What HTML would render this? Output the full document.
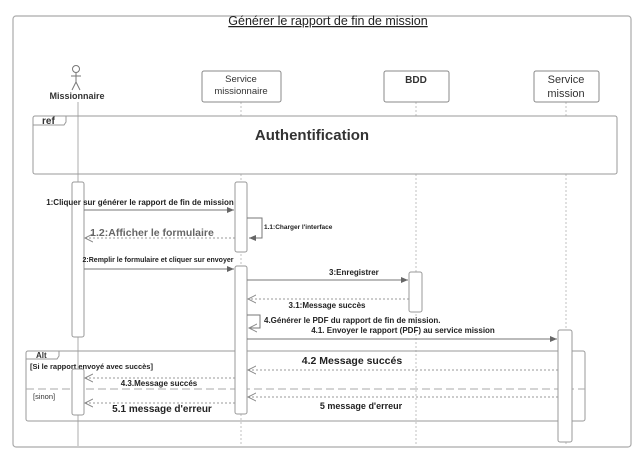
<!DOCTYPE html>
<html><head><meta charset="utf-8"><style>
body{margin:0;background:#fff;}
svg{display:block;font-family:"Liberation Sans",sans-serif;}
</style></head><body>
<svg width="643" height="461" viewBox="0 0 643 461" xmlns="http://www.w3.org/2000/svg">
<defs>
<marker id="a" markerWidth="8" markerHeight="8" refX="7" refY="4" orient="auto" markerUnits="userSpaceOnUse"><path d="M0,1 L7,4 L0,7 z" fill="#666"/></marker>
<marker id="o" markerWidth="10" markerHeight="10" refX="8" refY="5" orient="auto" markerUnits="userSpaceOnUse"><path d="M0,1 L8,5 L0,9" fill="none" stroke="#888"/></marker>
</defs>
<rect x="13" y="16" width="618" height="431" rx="3" fill="#fff" stroke="#aaa" stroke-width="1.2"/>
<text x="328" y="25" font-size="12.5" text-anchor="middle" fill="#222" text-decoration="underline">Générer  le rapport de fin de mission</text>
<!-- lifelines -->
<line x1="241" y1="102" x2="241" y2="446" stroke="#999" stroke-width="0.6" stroke-dasharray="2,2"/>
<line x1="416" y1="102" x2="416" y2="446" stroke="#999" stroke-width="0.6" stroke-dasharray="2,2"/>
<line x1="566" y1="102" x2="566" y2="446" stroke="#999" stroke-width="0.6" stroke-dasharray="2,2"/>
<!-- actor -->
<circle cx="76" cy="69" r="3.5" fill="#fff" stroke="#777"/>
<line x1="76" y1="73" x2="76" y2="82" stroke="#777"/>
<line x1="71" y1="76" x2="81" y2="76" stroke="#777"/>
<line x1="76" y1="82" x2="72" y2="90" stroke="#777"/>
<line x1="76" y1="82" x2="80" y2="90" stroke="#777"/>
<text x="77" y="99" font-size="9" font-weight="bold" text-anchor="middle" fill="#333">Missionnaire</text>
<!-- boxes -->
<rect x="202" y="71" width="79" height="31" rx="2" fill="#fff" stroke="#888"/>
<text x="241" y="82" font-size="9.5" text-anchor="middle" fill="#333">Service</text>
<text x="241" y="94" font-size="9.5" text-anchor="middle" fill="#333">missionnaire</text>
<rect x="384" y="71" width="65" height="31" rx="2" fill="#fff" stroke="#888"/>
<text x="416" y="83" font-size="10" font-weight="bold" text-anchor="middle" fill="#333">BDD</text>
<rect x="534" y="71" width="65" height="31" rx="2" fill="#fff" stroke="#888"/>
<text x="566" y="83" font-size="11" text-anchor="middle" fill="#333">Service</text>
<text x="566" y="97" font-size="11" text-anchor="middle" fill="#333">mission</text>
<!-- ref -->
<rect x="33" y="116" width="584" height="58" rx="2" fill="#fff" stroke="#999"/>
<path d="M33,125 L64,125 L66,122 L66,116" fill="none" stroke="#999"/>
<text x="42" y="124" font-size="10" font-weight="bold" fill="#333">ref</text>
<text x="312" y="140" font-size="15" font-weight="bold" text-anchor="middle" fill="#333">Authentification</text>
<line x1="78" y1="102" x2="78" y2="446" stroke="#999" stroke-width="0.8"/>
<!-- alt frame -->
<rect x="26" y="351" width="559" height="70" rx="2" fill="none" stroke="#999"/>
<path d="M26,359 L57,359 L59,356 L59,351" fill="none" stroke="#999"/>
<text x="36" y="358" font-size="8" font-weight="bold" fill="#333">Alt</text>
<text x="30" y="369" font-size="7.5" font-weight="bold" fill="#222">[Si le rapport envoyé avec succès]</text>
<line x1="26" y1="389" x2="585" y2="389" stroke="#aaa" stroke-dasharray="8,4"/>
<text x="33" y="399" font-size="7.5" fill="#333">[sinon]</text>
<!-- activations -->
<rect x="72" y="182" width="12" height="155" rx="2" fill="#fff" stroke="#999"/>
<rect x="72" y="369" width="12" height="46" rx="2" fill="#fff" stroke="#999"/>
<rect x="235" y="182" width="12" height="70" rx="2" fill="#fff" stroke="#999"/>
<rect x="235" y="266" width="12" height="148" rx="2" fill="#fff" stroke="#999"/>
<rect x="409" y="272" width="13" height="40" rx="2" fill="#fff" stroke="#999"/>
<rect x="558" y="330" width="14" height="112" rx="2" fill="#fff" stroke="#999"/>
<!-- messages -->
<g font-size="7.5" font-weight="bold" fill="#222">
<line x1="84" y1="210" x2="234" y2="210" stroke="#777" marker-end="url(#a)"/>
<text x="140" y="205" font-size="8" text-anchor="middle">1:Cliquer sur générer le rapport de  fin de mission</text>
<path d="M247,218 L262,218 L262,238 L249,238" fill="none" stroke="#777" marker-end="url(#a)"/>
<text x="264" y="229" font-size="6.5">1.1:Charger l'interface</text>
<line x1="235" y1="238" x2="85" y2="238" stroke="#999" stroke-dasharray="2,2" marker-end="url(#o)"/>
<text x="152" y="236" font-size="10.5" font-weight="bold" fill="#666" text-anchor="middle">1.2:Afficher le formulaire</text>
<line x1="84" y1="269" x2="234" y2="269" stroke="#777" marker-end="url(#a)"/>
<text x="158" y="262" font-size="7" text-anchor="middle">2:Remplir le formulaire et cliquer sur envoyer</text>
<line x1="247" y1="280" x2="408" y2="280" stroke="#777" marker-end="url(#a)"/>
<text x="329" y="275" font-size="8">3:Enregistrer</text>
<line x1="409" y1="299" x2="248" y2="299" stroke="#999" stroke-dasharray="2,2" marker-end="url(#o)"/>
<text x="327" y="308" font-size="8" text-anchor="middle">3.1:Message  succès</text>
<path d="M247,315 L260,315 L260,328 L249,328" fill="none" stroke="#777" marker-end="url(#o)"/>
<text x="264" y="323" font-size="8">4.Générer le PDF du rapport de fin de mission.</text>
<line x1="247" y1="339" x2="557" y2="339" stroke="#777" marker-end="url(#a)"/>
<text x="403" y="333" font-size="8" text-anchor="middle">4.1. Envoyer  le rapport (PDF) au service mission</text>
<line x1="558" y1="370" x2="248" y2="370" stroke="#999" stroke-dasharray="2,2" marker-end="url(#o)"/>
<text x="352" y="364" font-size="10.5" text-anchor="middle">4.2 Message  succés</text>
<line x1="235" y1="378" x2="85" y2="378" stroke="#999" stroke-dasharray="2,2" marker-end="url(#o)"/>
<text x="159" y="386" font-size="8" text-anchor="middle">4.3.Message succés</text>
<line x1="558" y1="397" x2="248" y2="397" stroke="#999" stroke-dasharray="2,2" marker-end="url(#o)"/>
<text x="361" y="409" font-size="9" text-anchor="middle">5 message d'erreur</text>
<line x1="235" y1="403" x2="85" y2="403" stroke="#999" stroke-dasharray="2,2" marker-end="url(#o)"/>
<text x="162" y="412" font-size="10" text-anchor="middle">5.1 message d'erreur</text>
</g>
</svg>
</body></html>
